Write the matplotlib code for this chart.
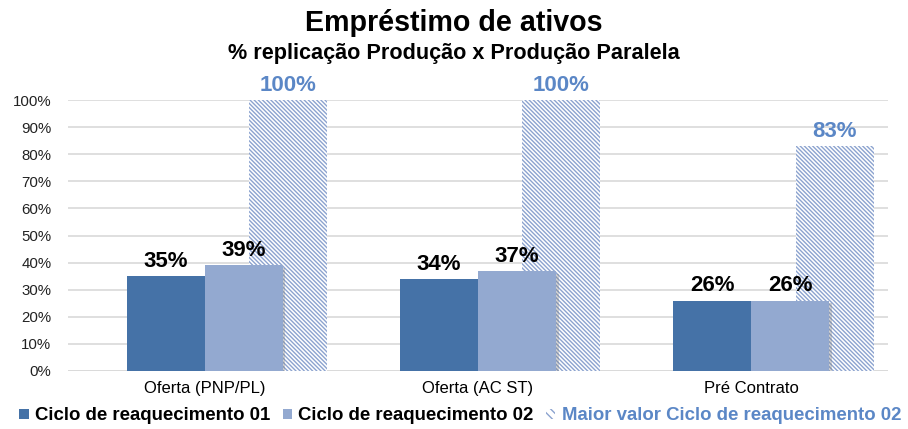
#!/usr/bin/env python3

import numpy as np
import matplotlib
matplotlib.use('Agg')
import matplotlib.pyplot as plt
from matplotlib import patheffects as pe
from matplotlib.patches import Patch
from matplotlib.ticker import PercentFormatter

plt.rcParams['font.family'] = ['Liberation Sans', 'DejaVu Sans']
plt.rcParams['hatch.linewidth'] = 1.0

categories = ['Oferta (PNP/PL)', 'Oferta (AC ST)', 'Pré Contrato']
ciclo01 = [35, 34, 26]
ciclo02 = [39, 37, 26]
maior02 = [100, 100, 83]
series_names = ['Ciclo de reaquecimento 01', 'Ciclo de reaquecimento 02',
                'Maior valor Ciclo de reaquecimento 02']
yticks = list(range(0, 101, 10))

dark = '#4572A7'
light = '#93A9D0'
hatchblue = '#8CA3CF'
labelblue = '#5B87C6'
hatch = '\\' * 8


def main():
    fig = plt.figure(figsize=(9.08, 4.29), dpi=100)
    ax = fig.add_axes([68 / 908, 58 / 429, 820 / 908, 271 / 429])

    x = np.arange(len(categories))
    w = 0.285

    b3 = ax.bar(x + 0.305, maior02, w, facecolor='white', edgecolor=hatchblue,
                linewidth=0, hatch=hatch, zorder=2)
    b1 = ax.bar(x - w / 2, ciclo01, w, color=dark, zorder=3)
    b2 = ax.bar(x + w / 2, ciclo02, w, color=light, zorder=4)
    for p in b2:
        p.set_path_effects([pe.SimplePatchShadow(offset=(2, -2), shadow_rgbFace='gray', alpha=0.35),
                            pe.Normal()])

    for bars, vals, col in [(b1, ciclo01, 'black'), (b2, ciclo02, 'black'), (b3, maior02, labelblue)]:
        for p, v in zip(bars, vals):
            ax.text(p.get_x() + p.get_width() / 2, v + 1.5, f'{v}%', ha='center', va='bottom',
                    fontsize=16, fontweight='bold', color=col, zorder=6)

    ax.set_xlim(-0.5, 2.5)
    ax.set_ylim(0, 100)
    ax.set_yticks(yticks)
    ax.yaxis.set_major_formatter(PercentFormatter(decimals=0))
    ax.set_xticks(x)
    ax.set_xticklabels(categories)
    ax.tick_params(axis='y', length=0, pad=12, labelsize=10.8, labelcolor='#222222')
    ax.tick_params(axis='x', length=0, pad=7, labelsize=12, labelcolor='black')
    ax.grid(axis='y', color='#D9D9D9', linewidth=1.2, zorder=0)
    ax.set_axisbelow(True)
    for s in ax.spines.values():
        s.set_visible(False)
    ax.axhline(0, color='#D9D9D9', linewidth=1.2, zorder=1)

    fig.text(0.5, 1 - 23 / 429, 'Empréstimo de ativos', ha='center', va='center',
             fontsize=20.6, fontweight='bold')
    fig.text(0.5, 1 - 53 / 429, '% replicação Produção x Produção Paralela', ha='center',
             va='center', fontsize=15.6, fontweight='bold')

    handles = [Patch(facecolor=dark), Patch(facecolor=light),
               Patch(facecolor='white', edgecolor=hatchblue, linewidth=0, hatch='\\' * 4)]
    leg = fig.legend(handles=handles, labels=series_names, loc='center',
                     bbox_to_anchor=(0.507, 1 - 416 / 429),
                     ncol=3, frameon=False, handlelength=0.5, handleheight=0.5,
                     handletextpad=0.35, columnspacing=0.65, borderaxespad=0,
                     prop={'size': 13.4, 'weight': 'bold'})
    leg.get_texts()[2].set_color(labelblue)

    fig.savefig('out.png', dpi=100)
    return 0


if __name__ == '__main__':
    exit(main())
